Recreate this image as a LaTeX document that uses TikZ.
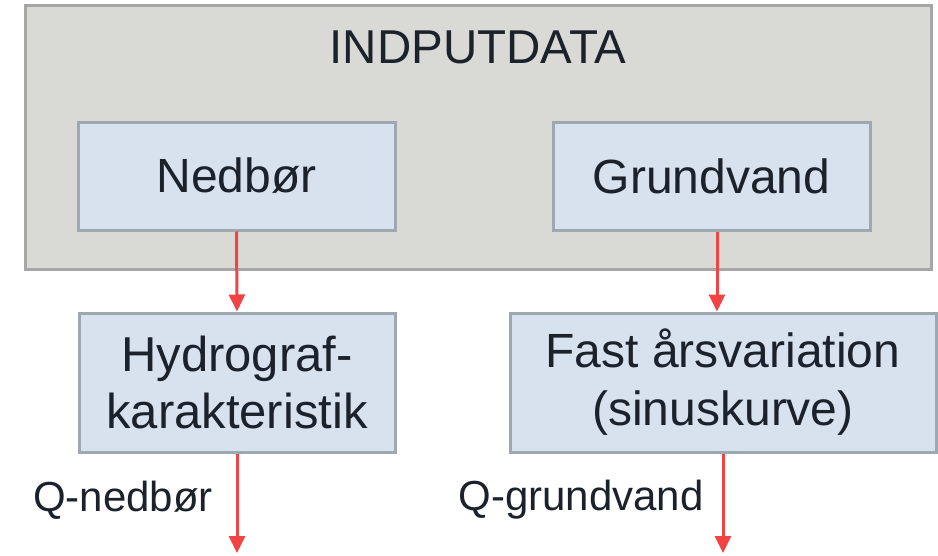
\documentclass[tikz,border=0pt]{standalone}
\usepackage{fontspec}
\setmainfont{Liberation Sans}
\usetikzlibrary{arrows.meta}
\definecolor{outerfill}{HTML}{D9D9D5}
\definecolor{outerline}{HTML}{A6A6A6}
\definecolor{boxfill}{HTML}{D7E2EE}
\definecolor{boxline}{HTML}{9EA8B1}
\definecolor{arrowred}{HTML}{F24444}
\definecolor{txt}{HTML}{1C222C}
\begin{document}
\begin{tikzpicture}[x=1pt,y=-1pt,
  outerbox/.style={draw=outerline,fill=outerfill,line width=3pt,inner sep=0pt},
  stepbox/.style={draw=boxline,fill=boxfill,line width=3pt,inner sep=0pt,align=center,
    text=txt,font=\fontsize{48}{58}\selectfont},
  flow/.style={draw=arrowred,line width=3pt,-{Triangle[width=16pt,length=17pt]}},
  lbl/.style={text=txt,font=\fontsize{42}{50}\selectfont,inner sep=0pt}]
\useasboundingbox (0,0) rectangle (938,555);
\node[outerbox,minimum width=906pt,minimum height=264pt] (outer) at (478,137) {};
\node[text=txt,font=\fontsize{47.5}{56}\selectfont,inner sep=0pt] (title) at (478,47) {INDPUTDATA};
\node[stepbox,minimum width=317pt,minimum height=108pt] (nedbor) at (236.5,176) {Nedbør};
\node[stepbox,minimum width=317pt,minimum height=108pt] (grund) at (711.5,176) {Grundvand};
\node[stepbox,minimum width=316pt,minimum height=139pt,font=\fontsize{49}{57}\selectfont] (hydro) at (237,382.5) {Hydrograf-\\karakteristik};
\node[stepbox,minimum width=426pt,minimum height=139pt] (fast) at (723,382.5) {Fast årsvariation\\(sinuskurve)};
\coordinate (endA) at (237,553);
\coordinate (endB) at (723,553);
\draw[flow] (nedbor.south) -- (hydro.north);
\draw[flow] ([xshift=5.5pt]grund.south) -- ([xshift=5.5pt]grund.south |- fast.north);
\draw[flow] (hydro.south) -- (endA);
\draw[flow] (fast.south) -- (endB);
\node[lbl] (qa) at (123,500) {Q-nedbør};
\node[lbl] (qb) at (581,500) {Q-grundvand};
\end{tikzpicture}
\end{document}
